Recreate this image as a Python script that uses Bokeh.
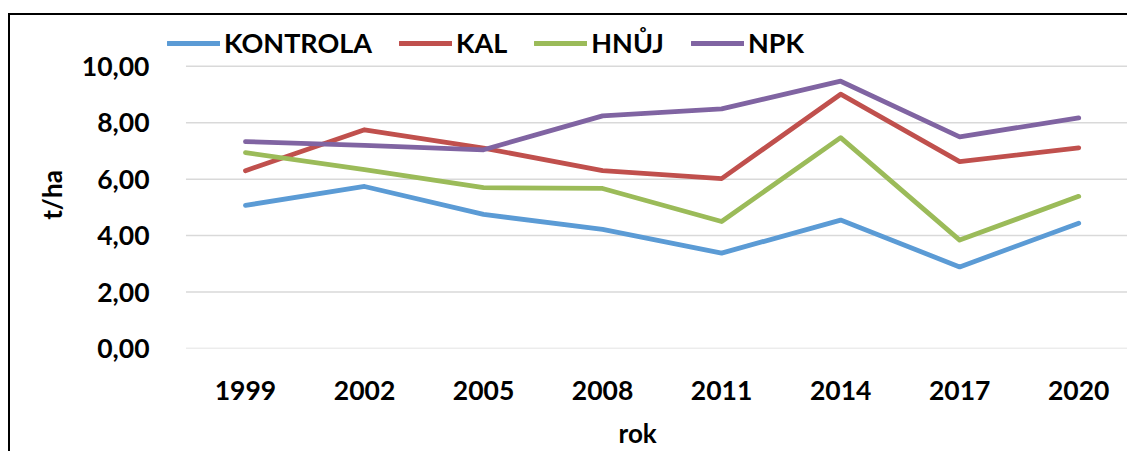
from bokeh.plotting import figure
from bokeh.models import Range1d, FixedTicker, Legend, LegendItem
from bokeh.embed import file_html
from bokeh.resources import INLINE

years = ["1999", "2002", "2005", "2008", "2011", "2014", "2017", "2020"]
kontrola = [5.07, 5.74, 4.75, 4.22, 3.38, 4.55, 2.89, 4.44]
kal = [6.30, 7.75, 7.10, 6.30, 6.02, 9.01, 6.62, 7.11]
hnuj = [6.94, 6.34, 5.70, 5.67, 4.50, 7.47, 3.84, 5.39]
npk = [7.33, 7.20, 7.04, 8.24, 8.49, 9.47, 7.50, 8.17]
series_names = ["KONTROLA", "KAL", "HNŮJ", "NPK"]
colors = ["#5B9BD5", "#C0504D", "#9BBB59", "#8064A2"]
y_ticks = [0, 2, 4, 6, 8, 10]

FONT = "Lato"
x = list(range(len(years)))
X0, X1 = -0.714, 7.41

border_css = ("linear-gradient(#000,#000) 8px 13px / 2px 100% no-repeat, "
              "linear-gradient(#000,#000) 8px 13px / 100% 2px no-repeat, #ffffff")

p = figure(width=1127, height=451, output_backend="svg", toolbar_location=None,
           x_range=Range1d(X0, X1), y_range=Range1d(0, 11.55),
           min_border_left=160, min_border_right=0, min_border_top=22, min_border_bottom=101,
           styles={"background": border_css})
p.background_fill_color = None
p.border_fill_color = None
p.outline_line_color = None
p.xgrid.grid_line_color = None
p.ygrid.grid_line_color = None

# horizontal gridlines at the y ticks, starting at the first category band
p.segment(x0=[-0.5] * len(y_ticks), x1=[X1] * len(y_ticks), y0=y_ticks, y1=y_ticks,
          line_color="#d9d9d9", line_width=1.5)

p.xaxis.ticker = FixedTicker(ticks=x)
p.xaxis.major_label_overrides = {i: y for i, y in enumerate(years)}
p.yaxis.ticker = FixedTicker(ticks=y_ticks)
p.yaxis.major_label_overrides = {v: f"{v:.2f}".replace(".", ",") for v in y_ticks}

for ax in (p.xaxis, p.yaxis):
    ax.axis_line_color = None
    ax.major_tick_line_color = None
    ax.minor_tick_line_color = None
    ax.major_label_text_font = FONT
    ax.major_label_text_font_style = "bold"
    ax.major_label_text_font_size = "26.5px"
    ax.major_label_text_color = "black"
    ax.axis_label_text_font = FONT
    ax.axis_label_text_font_style = "bold"
    ax.axis_label_text_font_size = "26px"
    ax.axis_label_text_color = "black"

p.xaxis.axis_label = "rok\u00a0\u00a0"
p.yaxis.axis_label = "t/ha\u00a0\u00a0\u00a0"
p.xaxis.major_label_standoff = 26
p.xaxis.axis_label_standoff = 14
p.yaxis.major_label_standoff = 5
p.yaxis.axis_label_standoff = 11

items = []
for name, vals, c in zip(series_names, [kontrola, kal, hnuj, npk], colors):
    r = p.line(x, vals, line_color=c, line_width=4.8, line_cap="round", line_join="round")
    items.append(LegendItem(label=name, renderers=[r]))

legend = Legend(items=items, orientation="horizontal", location=(7, 289),
                glyph_width=53, glyph_height=20, label_height=28, label_standoff=4,
                spacing=27, padding=0, margin=0,
                label_text_font=FONT, label_text_font_style="bold",
                label_text_font_size="27px", label_text_color="black",
                border_line_color=None, background_fill_alpha=0)
p.add_layout(legend, "center")

open("out.html", "w").write(file_html(p, INLINE))
